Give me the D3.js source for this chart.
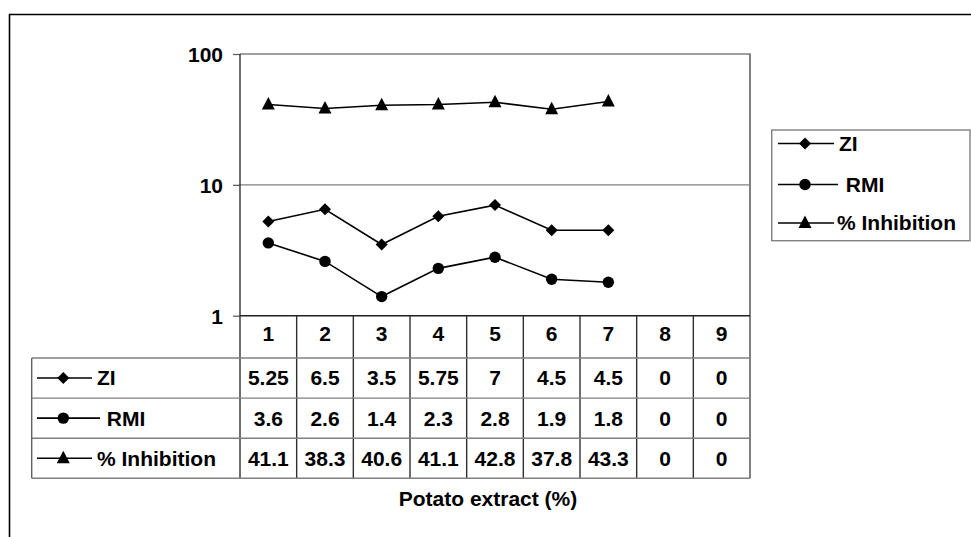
<!DOCTYPE html>
<html>
<head>
<meta charset="utf-8">
<script src="https://cdn.jsdelivr.net/npm/d3@7/dist/d3.min.js"></script>
<style>
  html, body { margin: 0; padding: 0; background: #fff; }
  svg { display: block; }
  text { font-family: "Liberation Sans", Arial, sans-serif; font-weight: bold; fill: #000; }
</style>
</head>
<body>
<svg id="chart" width="971" height="537"></svg>
<script>
// Potato extract concentrations (x categories)
const categories = ["1", "2", "3", "4", "5", "6", "7", "8", "9"];
// Series values per concentration
const ziValues = [5.25, 6.5, 3.5, 5.75, 7, 4.5, 4.5, 0, 0];
const rmiValues = [3.6, 2.6, 1.4, 2.3, 2.8, 1.9, 1.8, 0, 0];
const inhibitionValues = [41.1, 38.3, 40.6, 41.1, 42.8, 37.8, 43.3, 0, 0];
// Y axis ticks
const yTicks = [1, 10, 100];
const xTitle = "Potato extract (%)";

const series = [
  { name: "ZI", label: "ZI", values: ziValues, marker: "diamond" },
  { name: "RMI", label: " RMI", values: rmiValues, marker: "circle" },
  { name: "% Inhibition", label: "% Inhibition", values: inhibitionValues, marker: "triangle" }
];

const svg = d3.select("#chart");
const FS = 21;

const plot = { left: 240, right: 750, top: 54, bottom: 315.7 };
const table = { left: 31.7, headerBottom: 358, rowH: 40.1 };
const tableBottom = table.headerBottom + table.rowH * 3;

const x = d3.scaleBand().domain(categories).range([plot.left, plot.right]);
const y = d3.scaleLog().domain([1, 100]).range([plot.bottom, plot.top]);

// outer frame
svg.append("path")
  .attr("d", "M9.5,537 V14.5 H971")
  .attr("fill", "none").attr("stroke", "#000").attr("stroke-width", 1.6);

// horizontal gridlines
svg.append("g").selectAll("line")
  .data(yTicks.filter(d => d > 1))
  .join("line")
  .attr("x1", plot.left).attr("x2", plot.right)
  .attr("y1", d => y(d)).attr("y2", d => y(d))
  .attr("stroke", "#808080").attr("stroke-width", 1.3);

// right border of plot + table
svg.append("line")
  .attr("x1", plot.right).attr("x2", plot.right)
  .attr("y1", plot.top - 0.6).attr("y2", tableBottom)
  .attr("stroke", "#808080").attr("stroke-width", 2);

// y axis
const yAxis = svg.append("g")
  .attr("transform", `translate(${plot.left},0)`)
  .call(d3.axisLeft(y).tickValues(yTicks).tickFormat(d3.format("d")).tickSize(7).tickPadding(10));
yAxis.select(".domain").remove();
yAxis.selectAll(".tick line").attr("stroke", "#606060").attr("stroke-width", 1.3);
yAxis.selectAll(".tick text")
  .attr("font-size", FS).attr("font-family", "Liberation Sans, Arial, sans-serif")
  .attr("font-weight", "bold").attr("fill", "#000").attr("dy", "0.35em");

// left axis line through the table
svg.append("line")
  .attr("x1", plot.left).attr("x2", plot.left)
  .attr("y1", plot.top).attr("y2", tableBottom)
  .attr("stroke", "#303030").attr("stroke-width", 1.4);

// x axis line
svg.append("line")
  .attr("x1", plot.left).attr("x2", plot.right)
  .attr("y1", plot.bottom).attr("y2", plot.bottom)
  .attr("stroke", "#202020").attr("stroke-width", 1.6);

// data table: column separators
svg.append("g").selectAll("line")
  .data(categories.slice(1))
  .join("line")
  .attr("x1", d => x(d)).attr("x2", d => x(d))
  .attr("y1", plot.bottom).attr("y2", tableBottom)
  .attr("stroke", "#303030").attr("stroke-width", 1.4);

// data table: row lines and outline
const rowLines = [0, 1, 2, 3].map(i => table.headerBottom + i * table.rowH);
svg.append("g").selectAll("line")
  .data(rowLines)
  .join("line")
  .attr("x1", table.left).attr("x2", plot.right)
  .attr("y1", d => d).attr("y2", d => d)
  .attr("stroke", "#808080").attr("stroke-width", 1.4);
svg.append("line")
  .attr("x1", table.left).attr("x2", table.left)
  .attr("y1", table.headerBottom).attr("y2", tableBottom)
  .attr("stroke", "#606060").attr("stroke-width", 1.4);

// header category labels
svg.append("g").selectAll("text")
  .data(categories)
  .join("text")
  .attr("x", d => x(d) + x.bandwidth() / 2)
  .attr("y", 333.5)
  .attr("dy", "0.35em")
  .attr("text-anchor", "middle")
  .attr("font-size", FS)
  .text(d => d);

// marker drawing
function drawMarker(g, type, cx, cy) {
  if (type === "diamond") {
    g.append("path").attr("d", `M${cx},${cy - 6} L${cx + 6},${cy} L${cx},${cy + 6} L${cx - 6},${cy} Z`).attr("fill", "#000");
  } else if (type === "circle") {
    g.append("circle").attr("cx", cx).attr("cy", cy).attr("r", 5.7).attr("fill", "#000");
  } else {
    g.append("path").attr("d", `M${cx},${cy - 7.5} L${cx + 6.5},${cy + 5} L${cx - 6.5},${cy + 5} Z`).attr("fill", "#000");
  }
}

// table rows: legend key, name and values
const keyLayout = [
  { lineEnd: 92, textX: 97 },
  { lineEnd: 100, textX: 101 },
  { lineEnd: 92, textX: 97 }
];
series.forEach((s, i) => {
  const cy = table.headerBottom + table.rowH * (i + 0.5);
  const g = svg.append("g");
  g.append("line").attr("x1", 37).attr("x2", keyLayout[i].lineEnd)
    .attr("y1", cy).attr("y2", cy).attr("stroke", "#000").attr("stroke-width", 1.6);
  drawMarker(g, s.marker, 63.3, cy);
  g.append("text").attr("x", keyLayout[i].textX).attr("y", cy).attr("dy", "0.35em")
    .attr("font-size", FS).style("white-space", "pre").text(s.label);
  g.selectAll("text.val")
    .data(s.values)
    .join("text")
    .attr("class", "val")
    .attr("x", (d, j) => x(categories[j]) + x.bandwidth() / 2)
    .attr("y", cy)
    .attr("dy", "0.35em")
    .attr("text-anchor", "middle")
    .attr("font-size", FS)
    .text(d => d);
});

// series lines and markers (zero values cannot be placed on a log scale)
const line = d3.line()
  .x(d => x(d.cat) + x.bandwidth() / 2)
  .y(d => y(d.v));
series.forEach(s => {
  const pts = s.values.map((v, j) => ({ cat: categories[j], v })).filter(d => d.v > 0);
  const g = svg.append("g");
  g.append("path").attr("d", line(pts)).attr("fill", "none")
    .attr("stroke", "#000").attr("stroke-width", 1.6);
  pts.forEach(d => drawMarker(g, s.marker, x(d.cat) + x.bandwidth() / 2, y(d.v)));
});

// legend
const legend = svg.append("g");
legend.append("rect")
  .attr("x", 771.7).attr("y", 130).attr("width", 198.3).attr("height", 110.7)
  .attr("fill", "none").attr("stroke", "#808080").attr("stroke-width", 1.4);
const legendRows = [
  { cy: 143.5, lineEnd: 834, textX: 839 },
  { cy: 184.5, lineEnd: 838, textX: 840 },
  { cy: 223, lineEnd: 834, textX: 837 }
];
series.forEach((s, i) => {
  const r = legendRows[i];
  legend.append("line").attr("x1", 778).attr("x2", r.lineEnd)
    .attr("y1", r.cy).attr("y2", r.cy).attr("stroke", "#000").attr("stroke-width", 1.6);
  drawMarker(legend, s.marker, 805, r.cy);
  legend.append("text").attr("x", r.textX).attr("y", r.cy).attr("dy", "0.35em")
    .attr("font-size", FS).style("white-space", "pre").text(s.label);
});

// x axis title
svg.append("text")
  .attr("x", 488).attr("y", 506)
  .attr("text-anchor", "middle")
  .attr("font-size", FS)
  .text(xTitle);
</script>
</body>
</html>
